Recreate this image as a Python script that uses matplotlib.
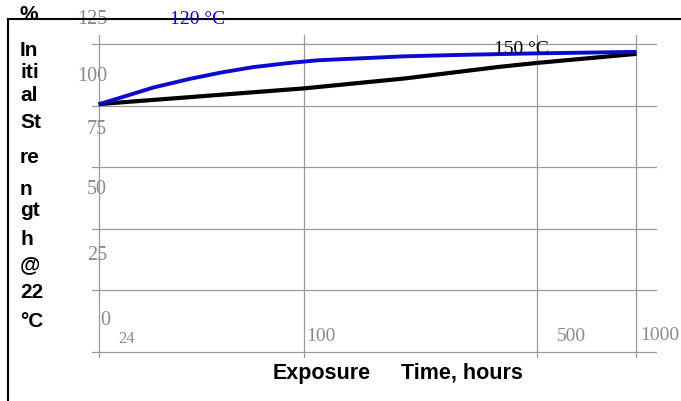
import matplotlib
matplotlib.use("Agg")
import matplotlib.pyplot as plt
from matplotlib.lines import Line2D

# ---- data ----
hours_120 = [24, 30, 35, 45, 56, 70, 90, 110, 200, 300, 500, 1000]
strength_120 = [100.5, 104.5, 107.3, 110.8, 113.4, 115.6, 117.3, 118.4, 120.0, 120.6, 121.2, 121.8]
hours_150 = [24, 100, 200, 385, 500, 1000]
strength_150 = [100.6, 107, 111, 115.7, 117.3, 121]
x_ticks = [24, 100, 500, 1000]
x_tick_labels = ["24", "100", "500", "1000"]
y_ticks = [0, 25, 50, 75, 100, 125]
y_tick_labels = ["0", "25", "50", "75", "100", "125"]
series_names = ["120 °C", "150 °C"]
ylabel_parts = ["%", "In", "iti", "al", "St", "re", "n", "gt", "h", "@", "22", "°C"]
xlabel_parts = ["Exposure", "Time, hours"]

# ---- layout ----
W, H = 681, 401
fig = plt.figure(figsize=(W / 100, H / 100), dpi=100)
fig.patch.set_facecolor("white")

def fx(px):
    return px / W

def fy(py):
    return 1 - py / H

ax_l, ax_r, ax_t, ax_b = 92, 657, 35, 358
ax = fig.add_axes([fx(ax_l), fy(ax_b), (ax_r - ax_l) / W, (ax_b - ax_t) / H])
ax.set_xscale("log")
ax.set_xlim(22.93, 1153)
ax.set_ylim(-2.44, 128.65)
for s in ax.spines.values():
    s.set_visible(False)
ax.set_xticks(x_ticks)
ax.set_yticks(y_ticks)
ax.xaxis.set_minor_locator(matplotlib.ticker.NullLocator())
ax.tick_params(length=0, labelbottom=False, labelleft=False)
ax.grid(True, color="#9a9a9a", lw=0.9)
ax.set_axisbelow(True)

ax.plot(hours_150, strength_150, color="black", lw=3.0, solid_capstyle="butt", zorder=3)
ax.plot(hours_120, strength_120, color="#0a0ad0", lw=2.8, solid_capstyle="butt",
        solid_joinstyle="round", zorder=4)

gray = "#8a8a8a"
serif = "Liberation Serif"
sans = "Liberation Sans"

# y tick labels (offsets in pixels from gridline at left edge of axes)
y_offsets = [(8, 31, "left"), (15, 35, "right"), (15, 39, "right"),
             (15, 37.5, "right"), (15, 29.5, "right"), (15, 24.5, "right")]
for v, lab, (dx, dy, ha) in zip(y_ticks, y_tick_labels, y_offsets):
    ax.annotate(lab, xy=(0, v), xycoords=("axes fraction", "data"),
                xytext=(dx, dy), textcoords="offset pixels", ha=ha, va="center",
                color=gray, fontsize=14.5, family=serif, annotation_clip=False)

# x tick labels
x_offsets = [(19.5, 13, 12), (2, 15.5, 14), (20, 15.5, 14), (4, 16, 14)]
for v, lab, (dx, dy, fs) in zip(x_ticks, x_tick_labels, x_offsets):
    ax.annotate(lab, xy=(v, 0), xycoords="data", xytext=(dx, dy),
                textcoords="offset pixels", ha="left", va="center",
                color=gray, fontsize=fs, family=serif, annotation_clip=False)

# series labels
fig.text(fx(198), fy(19.5), series_names[0], color="#0000ff", fontsize=14,
         family=serif, ha="center", va="center")
fig.text(fx(521), fy(50), series_names[1], color="black", fontsize=14,
         family=serif, ha="center", va="center")

# frame lines
fig.add_artist(Line2D([fx(8), fx(681)], [fy(19), fy(19)], color="black", lw=1.5))
fig.add_artist(Line2D([fx(8), fx(8)], [fy(19), fy(401)], color="black", lw=1.5))

# stacked y label
baselines = [20, 56, 78, 101, 128, 163, 195, 216, 245, 270, 298, 327]
for part, b in zip(ylabel_parts, baselines):
    fig.text(fx(20), fy(b), part, fontsize=15, fontweight="bold", family=sans,
             ha="left", va="baseline", color="black")

# x label
fig.text(fx(273), fy(379), xlabel_parts[0], fontsize=15.5, fontweight="bold",
         family=sans, ha="left", va="baseline")
fig.text(fx(401), fy(379), xlabel_parts[1], fontsize=15.5, fontweight="bold",
         family=sans, ha="left", va="baseline")

fig.savefig("out.png", dpi=100, facecolor="white")
